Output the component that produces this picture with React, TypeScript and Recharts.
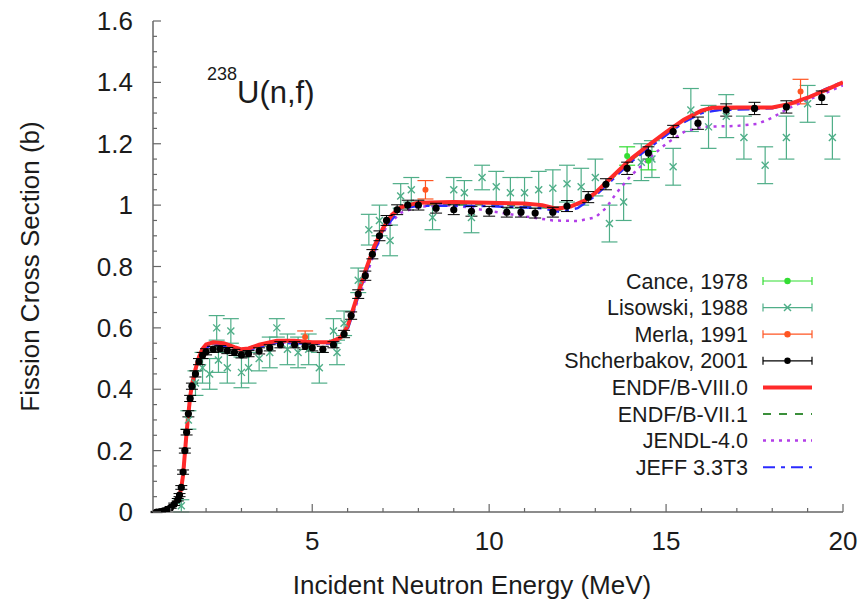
import React from 'react'
import { ComposedChart, Line, Scatter, ErrorBar, XAxis, YAxis, Legend } from 'recharts'

const FONT = '"Liberation Sans", Arial, Helvetica, sans-serif'
const INK = '#1b1b1b'
const FRAME = '#666666'

const RED = '#ff2a2a'
const GREEN = '#3a8f3a'
const PURPLE = '#b23ee8'
const BLUE = '#2b2bff'
const CANCE = '#33dd33'
const LISOWSKI = '#4fae88'
const MERLA = '#ff5522'
const SHCH = '#000000'

type Pt = { e: number, s: number, err?: number }
const pts = (rows: number[][]): Pt[] => rows.map(([e, s, err]) => ({ e, s, err }))

// evaluations: [energy MeV, sigma b]
const endfb80 = pts([
  [0.5, 0], [0.7, 0.002], [0.9, 0.008], [1.0, 0.016], [1.1, 0.028], [1.2, 0.044], [1.26, 0.058], [1.3, 0.08],
  [1.35, 0.12], [1.4, 0.19], [1.45, 0.26], [1.5, 0.32], [1.55, 0.375], [1.6, 0.415], [1.7, 0.465], [1.8, 0.505],
  [1.9, 0.532], [2.0, 0.546], [2.2, 0.553], [2.5, 0.55], [2.8, 0.537], [3.0, 0.53], [3.2, 0.533], [3.5, 0.545],
  [4.0, 0.558], [4.5, 0.558], [5.0, 0.553], [5.5, 0.553], [5.8, 0.568], [6.0, 0.605], [6.25, 0.695], [6.5, 0.785],
  [6.75, 0.865], [7.0, 0.925], [7.25, 0.968], [7.5, 0.993], [8.0, 1.008], [9.0, 1.01], [10.0, 1.008], [11.0, 1.005],
  [11.5, 1.0], [11.9, 0.988], [12.3, 0.995], [12.7, 1.015], [13.0, 1.04], [13.5, 1.095], [14.0, 1.15], [14.5, 1.195],
  [15.0, 1.238], [15.5, 1.278], [16.0, 1.308], [16.3, 1.317], [17.0, 1.318], [18.0, 1.318], [18.5, 1.33], [19.0, 1.35],
  [19.5, 1.375], [20.0, 1.4],
])

const endfb71 = pts([
  [0.5, 0], [0.9, 0.008], [1.1, 0.027], [1.26, 0.056], [1.35, 0.118], [1.45, 0.258], [1.55, 0.372], [1.7, 0.462],
  [1.9, 0.53], [2.2, 0.551], [2.8, 0.535], [3.2, 0.531], [4.0, 0.556], [5.0, 0.551], [5.5, 0.551], [5.8, 0.566],
  [6.0, 0.6], [6.5, 0.78], [7.0, 0.92], [7.5, 0.99], [8.0, 1.003], [10.0, 1.002], [11.5, 0.995], [12.0, 0.984],
  [12.7, 1.01], [13.5, 1.09], [14.0, 1.145], [15.0, 1.235], [16.0, 1.305], [17.0, 1.315], [18.0, 1.317], [19.0, 1.348],
  [20.0, 1.398],
])

const jendl40 = pts([
  [0.5, 0], [0.9, 0.008], [1.1, 0.03], [1.26, 0.06], [1.35, 0.125], [1.45, 0.265], [1.55, 0.378], [1.7, 0.463],
  [1.9, 0.528], [2.2, 0.548], [2.8, 0.535], [3.2, 0.53], [4.0, 0.553], [5.0, 0.55], [5.6, 0.552], [5.9, 0.575],
  [6.2, 0.66], [6.5, 0.76], [6.8, 0.86], [7.1, 0.93], [7.5, 0.975], [8.0, 0.995], [9.0, 1.0], [9.8, 0.985],
  [10.5, 0.972], [11.2, 0.96], [11.8, 0.95], [12.5, 0.948], [13.0, 0.96], [13.3, 0.99], [13.6, 1.04], [14.0, 1.095],
  [14.5, 1.15], [15.0, 1.2], [15.5, 1.238], [16.0, 1.255], [17.0, 1.258], [17.6, 1.265], [18.0, 1.285], [18.5, 1.318],
  [19.0, 1.343], [19.5, 1.365], [20.0, 1.39],
])

const jeff33 = pts([
  [0.5, 0], [0.9, 0.007], [1.1, 0.026], [1.26, 0.054], [1.35, 0.115], [1.45, 0.255], [1.55, 0.37], [1.7, 0.46],
  [1.9, 0.528], [2.2, 0.548], [2.8, 0.533], [3.2, 0.528], [4.0, 0.552], [5.0, 0.548], [5.5, 0.549], [5.8, 0.562],
  [6.0, 0.595], [6.25, 0.683], [6.5, 0.775], [7.0, 0.918], [7.5, 0.988], [8.0, 0.998], [10.0, 0.997], [11.5, 0.99],
  [12.0, 0.978], [12.5, 0.99], [13.0, 1.03], [13.5, 1.085], [14.0, 1.14], [14.5, 1.185], [15.0, 1.228], [15.5, 1.27],
  [16.0, 1.3], [16.5, 1.31], [17.5, 1.313], [18.0, 1.316], [18.5, 1.33], [19.0, 1.35], [19.5, 1.378], [20.0, 1.402],
])

// measurements: [energy MeV, sigma b, uncertainty b]
const cance1978 = pts([
  [13.9, 1.16, 0.03], [14.5, 1.145, 0.03],
])

const lisowski1988 = pts([
  [1.3, 0.02, 0.02], [1.5, 0.3, 0.03], [1.7, 0.42, 0.04], [1.9, 0.47, 0.05], [2.1, 0.45, 0.05], [2.3, 0.6, 0.04],
  [2.35, 0.495, 0.04], [2.6, 0.47, 0.05], [2.7, 0.59, 0.04], [3.0, 0.455, 0.05], [3.2, 0.47, 0.05], [3.5, 0.5, 0.04],
  [3.8, 0.52, 0.05], [4.0, 0.6, 0.03], [4.3, 0.53, 0.05], [4.6, 0.52, 0.05], [4.9, 0.53, 0.05], [5.2, 0.47, 0.05],
  [5.6, 0.59, 0.04], [5.7, 0.52, 0.04], [5.9, 0.615, 0.04], [6.3, 0.755, 0.04], [6.6, 0.92, 0.05], [6.9, 0.95, 0.05],
  [7.2, 0.885, 0.05], [7.5, 1.03, 0.04], [7.8, 1.05, 0.04], [8.4, 0.96, 0.04], [9.0, 1.05, 0.04], [9.3, 1.04, 0.04],
  [9.5, 0.96, 0.05], [9.8, 1.09, 0.04], [10.2, 1.06, 0.05], [10.6, 1.04, 0.05], [11.0, 1.04, 0.05], [11.4, 1.05, 0.06],
  [11.8, 1.055, 0.06], [12.2, 1.07, 0.06], [12.6, 1.06, 0.06], [13.0, 1.09, 0.06], [13.4, 0.94, 0.06], [13.8, 1.01, 0.06],
  [14.3, 1.14, 0.06], [14.6, 1.15, 0.06], [15.2, 1.125, 0.06], [15.7, 1.31, 0.07], [16.2, 1.255, 0.07], [16.7, 1.29, 0.07],
  [17.2, 1.22, 0.07], [17.8, 1.13, 0.06], [18.4, 1.22, 0.07], [19.0, 1.33, 0.06], [19.7, 1.22, 0.07],
])

const merla1991 = pts([
  [4.8, 0.57, 0.02], [8.2, 1.05, 0.03], [18.8, 1.37, 0.04],
])

const shcherbakov2001 = pts([
  [0.6, 0.0, 0.002], [0.7, 0.001, 0.002], [0.8, 0.004, 0.002], [0.9, 0.008, 0.003], [1.0, 0.015, 0.003],
  [1.1, 0.025, 0.004], [1.2, 0.04, 0.004], [1.25, 0.055, 0.005], [1.3, 0.08, 0.006], [1.35, 0.13, 0.007],
  [1.4, 0.2, 0.008], [1.45, 0.26, 0.009], [1.5, 0.32, 0.01], [1.55, 0.37, 0.01], [1.6, 0.41, 0.01], [1.7, 0.45, 0.01],
  [1.8, 0.49, 0.01], [1.9, 0.51, 0.01], [2.0, 0.522, 0.01], [2.2, 0.53, 0.01], [2.4, 0.532, 0.01], [2.6, 0.526, 0.01],
  [2.8, 0.52, 0.01], [3.0, 0.512, 0.01], [3.2, 0.516, 0.01], [3.5, 0.525, 0.01], [3.8, 0.535, 0.01], [4.1, 0.545, 0.01],
  [4.5, 0.545, 0.01], [4.8, 0.54, 0.01], [5.0, 0.535, 0.01], [5.3, 0.53, 0.01], [5.6, 0.545, 0.01], [5.9, 0.58, 0.012],
  [6.1, 0.64, 0.012], [6.3, 0.71, 0.014], [6.5, 0.77, 0.015], [6.7, 0.84, 0.015], [6.9, 0.9, 0.016], [7.1, 0.95, 0.016],
  [7.4, 0.985, 0.016], [7.7, 1.0, 0.016], [8.0, 1.0, 0.016], [8.5, 0.99, 0.016], [9.0, 0.985, 0.016], [9.5, 0.98, 0.016],
  [10.0, 0.98, 0.016], [10.5, 0.977, 0.016], [10.9, 0.977, 0.016], [11.3, 0.974, 0.016], [11.8, 0.977, 0.016],
  [12.2, 0.997, 0.018], [12.8, 1.026, 0.018], [13.3, 1.068, 0.018], [13.9, 1.12, 0.02], [14.5, 1.17, 0.02],
  [15.2, 1.24, 0.02], [15.9, 1.267, 0.02], [16.7, 1.31, 0.02], [17.5, 1.315, 0.02], [18.4, 1.32, 0.02], [19.4, 1.35, 0.022],
])

const xTicks = [1, 2, 3, 4, 5, 6, 7, 8, 9, 10, 11, 12, 13, 14, 15, 16, 17, 18, 19, 20]
const xLabels = [5, 10, 15, 20]
const yTicks = [
  0, 0.05, 0.1, 0.15, 0.2, 0.25, 0.3, 0.35, 0.4, 0.45, 0.5, 0.55, 0.6, 0.65, 0.7, 0.75, 0.8,
  0.85, 0.9, 0.95, 1, 1.05, 1.1, 1.15, 1.2, 1.25, 1.3, 1.35, 1.4, 1.45, 1.5, 1.55, 1.6,
]
const yLabels = [0, 0.2, 0.4, 0.6, 0.8, 1, 1.2, 1.4, 1.6]

type LegendItem = { name: string, color: string, kind: 'err' | 'line', marker?: 'dot' | 'x', dash?: string, width?: number }
const legendItems: LegendItem[] = [
  { name: 'Cance, 1978', color: CANCE, kind: 'err', marker: 'dot' },
  { name: 'Lisowski, 1988', color: LISOWSKI, kind: 'err', marker: 'x' },
  { name: 'Merla, 1991', color: MERLA, kind: 'err', marker: 'dot' },
  { name: 'Shcherbakov, 2001', color: SHCH, kind: 'err', marker: 'dot' },
  { name: 'ENDF/B-VIII.0', color: RED, kind: 'line', width: 4 },
  { name: 'ENDF/B-VII.1', color: GREEN, kind: 'line', dash: '8 8', width: 2 },
  { name: 'JENDL-4.0', color: PURPLE, kind: 'line', dash: '3 5', width: 2.5 },
  { name: 'JEFF 3.3T3', color: BLUE, kind: 'line', dash: '12 6 4 6', width: 2 },
]

const isMajor = (v: number, list: number[]) => list.some(l => Math.abs(l - v) < 1e-9)

const BottomTick = ({ x, y, payload }: any) => {
  const major = isMajor(payload.value, xLabels)
  return (
    <g>
      <line x1={x} x2={x} y1={y} y2={y - (major ? 8 : 4)} stroke={FRAME} strokeWidth={1.2} />
      {major && (
        <text x={x} y={y + 38} textAnchor="middle" fontSize={26} fontFamily={FONT} fill={INK}>{payload.value}</text>
      )}
    </g>
  )
}

const TopTick = ({ x, y, payload }: any) => {
  const major = isMajor(payload.value, xLabels)
  return <line x1={x} x2={x} y1={y} y2={y + (major ? 8 : 4)} stroke={FRAME} strokeWidth={1.2} />
}

const LeftTick = ({ x, y, payload }: any) => {
  const major = isMajor(payload.value, yLabels)
  return (
    <g>
      <line x1={x} x2={x + (major ? 8 : 4)} y1={y} y2={y} stroke={FRAME} strokeWidth={1.2} />
      {major && (
        <text x={x - 20} y={y + 9} textAnchor="end" fontSize={26} fontFamily={FONT} fill={INK}>{payload.value}</text>
      )}
    </g>
  )
}

const RightTick = ({ x, y, payload }: any) => {
  const major = isMajor(payload.value, yLabels)
  return <line x1={x} x2={x - (major ? 8 : 4)} y1={y} y2={y} stroke={FRAME} strokeWidth={1.2} />
}

const XMark = ({ cx, cy, fill }: any) => {
  if (cx == null || cy == null) return null
  const r = 3.5
  return (
    <g stroke={fill} strokeWidth={1.4}>
      <line x1={cx - r} y1={cy - r} x2={cx + r} y2={cy + r} />
      <line x1={cx - r} y1={cy + r} x2={cx + r} y2={cy - r} />
    </g>
  )
}

const Dot = (r: number) => ({ cx, cy, fill }: any) =>
  cx == null || cy == null ? null : <circle cx={cx} cy={cy} r={r} fill={fill} />

const LegendBox = () => {
  const textRight = 228
  const x0 = 243
  const x1 = 292
  return (
    <svg width={310} height={220} style={{ overflow: 'visible' }}>
      {legendItems.map((it, i) => {
        const y = 15 + i * 26.6
        const mid = (x0 + x1) / 2
        return (
          <g key={it.name}>
            <text x={textRight} y={y + 7.5} textAnchor="end" fontSize={21.5} fontFamily={FONT} fill={INK}>{it.name}</text>
            {it.kind === 'line' ? (
              <line x1={x0} x2={x1} y1={y} y2={y} stroke={it.color} strokeWidth={it.width} strokeDasharray={it.dash} />
            ) : (
              <g stroke={it.color} strokeWidth={1.2}>
                <line x1={x0} x2={x1} y1={y} y2={y} />
                <line x1={x0} x2={x0} y1={y - 4} y2={y + 4} />
                <line x1={x1} x2={x1} y1={y - 4} y2={y + 4} />
                {it.marker === 'x' ? (
                  <g strokeWidth={1.4}>
                    <line x1={mid - 3.5} y1={y - 3.5} x2={mid + 3.5} y2={y + 3.5} />
                    <line x1={mid - 3.5} y1={y + 3.5} x2={mid + 3.5} y2={y - 3.5} />
                  </g>
                ) : (
                  <circle cx={mid} cy={y} r={3.2} fill={it.color} stroke="none" />
                )}
              </g>
            )}
          </g>
        )
      })}
    </svg>
  )
}

const axisLine = { stroke: FRAME, strokeWidth: 1.5 }

export default function App() {
  return (
    <div style={{ position: 'absolute', left: 0, top: 0, width: 866, height: 599, background: '#fff' }}>
      <ComposedChart width={866} height={599} margin={{ top: 21, right: 23, bottom: 0, left: 0 }}>
        <XAxis
          dataKey="e" type="number" domain={[0.5, 20]} allowDataOverflow ticks={xTicks} interval={0}
          height={87} tickSize={0} tickMargin={0} tickLine={false} axisLine={axisLine}
          tick={(p: any) => <BottomTick {...p} />}
          label={{
            content: ({ viewBox }: any) => (
              <text x={viewBox.x + viewBox.width / 2 - 26} y={viewBox.y + viewBox.height - 5}
                textAnchor="middle" fontSize={26} fontFamily={FONT} fill={INK}>
                Incident Neutron Energy (MeV)
              </text>
            ),
          }}
        />
        <XAxis
          xAxisId="top" orientation="top" dataKey="e" type="number" domain={[0.5, 20]} allowDataOverflow
          ticks={xTicks} interval={0} height={0} tickSize={0} tickMargin={0} tickLine={false} axisLine={axisLine}
          tick={(p: any) => <TopTick {...p} />}
        />
        <YAxis
          type="number" domain={[0, 1.6]} allowDataOverflow ticks={yTicks} interval={0} width={153}
          tickSize={0} tickMargin={0} tickLine={false} axisLine={axisLine}
          tick={(p: any) => <LeftTick {...p} />}
          label={{
            content: ({ viewBox }: any) => {
              const cx = 30
              const cy = viewBox.y + viewBox.height / 2
              return (
                <text x={cx} y={cy} transform={`rotate(-90 ${cx} ${cy})`} dy={9}
                  textAnchor="middle" fontSize={26} fontFamily={FONT} fill={INK}>
                  Fission Cross Section (b)
                </text>
              )
            },
          }}
        />
        <YAxis
          yAxisId="right" orientation="right" type="number" domain={[0, 1.6]} allowDataOverflow ticks={yTicks}
          interval={0} width={0} tickSize={0} tickMargin={0} tickLine={false} axisLine={axisLine}
          tick={(p: any) => <RightTick {...p} />}
        />

        <Scatter name="Lisowski, 1988" data={lisowski1988} dataKey="s" fill={LISOWSKI} shape={(p: any) => <XMark {...p} />} isAnimationActive={false}>
          <ErrorBar dataKey="err" direction="y" width={8} stroke={LISOWSKI} strokeWidth={1.2} />
        </Scatter>
        <Scatter name="Cance, 1978" data={cance1978} dataKey="s" xAxisId="top" yAxisId="right" fill={CANCE} shape={Dot(3)} isAnimationActive={false}>
          <ErrorBar dataKey="err" direction="y" width={8} stroke={CANCE} strokeWidth={1.2} />
        </Scatter>
        <Scatter name="Merla, 1991" data={merla1991} dataKey="s" fill={MERLA} shape={Dot(3)} isAnimationActive={false}>
          <ErrorBar dataKey="err" direction="y" width={8} stroke={MERLA} strokeWidth={1.2} />
        </Scatter>

        <Line name="JENDL-4.0" data={jendl40} dataKey="s" type="linear" stroke={PURPLE} strokeWidth={2.5} strokeDasharray="3 5" dot={false} isAnimationActive={false} />
        <Line name="ENDF/B-VII.1" data={endfb71} dataKey="s" type="linear" stroke={GREEN} strokeWidth={2} strokeDasharray="8 8" dot={false} isAnimationActive={false} />
        <Line name="JEFF 3.3T3" data={jeff33} dataKey="s" type="linear" stroke={BLUE} strokeWidth={2.5} strokeDasharray="12 6 4 6" dot={false} isAnimationActive={false} />
        <Line name="ENDF/B-VIII.0" data={endfb80} dataKey="s" type="linear" stroke={RED} strokeWidth={4} dot={false} isAnimationActive={false} />

        <Scatter name="Shcherbakov, 2001" data={shcherbakov2001} dataKey="s" fill={SHCH} shape={Dot(3.6)} isAnimationActive={false}>
          <ErrorBar dataKey="err" direction="y" width={6} stroke={SHCH} strokeWidth={1} />
        </Scatter>

        <Legend
          layout="horizontal" verticalAlign="middle" align="center"
          wrapperStyle={{ position: 'absolute', left: 520, top: 266, width: 310, height: 220 }}
          content={() => <LegendBox />}
        />
      </ComposedChart>

      <svg width={866} height={599} style={{ position: 'absolute', left: 0, top: 0, pointerEvents: 'none' }}>
        <text x={207} y={80} fontSize={18} fontFamily={FONT} fill={INK}>238</text>
        <text x={237} y={103} fontSize={31} fontFamily={FONT} fill={INK}>U(n,f)</text>
      </svg>
    </div>
  )
}
